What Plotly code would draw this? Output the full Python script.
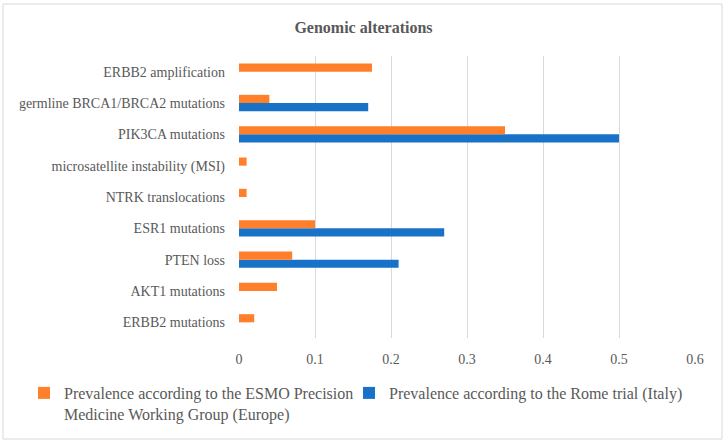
import plotly.graph_objects as go

categories = [
    "ERBB2 mutations",
    "AKT1 mutations",
    "PTEN loss",
    "ESR1 mutations",
    "NTRK translocations",
    "microsatellite instability (MSI)",
    "PIK3CA mutations",
    "germline BRCA1/BRCA2 mutations",
    "ERBB2 amplification",
]
esmo_values = [0.02, 0.05, 0.07, 0.10, 0.01, 0.01, 0.35, 0.04, 0.175]
rome_values = [None, None, 0.21, 0.27, None, None, 0.50, 0.17, None]
x_ticks = [0, 0.1, 0.2, 0.3, 0.4, 0.5, 0.6]
x_tick_labels = ["0", "0.1", "0.2", "0.3", "0.4", "0.5", "0.6"]

esmo_name = "Prevalence according to the ESMO Precision<br>Medicine Working Group (Europe)"
rome_name = "Prevalence according to the Rome trial (Italy)"

FONT = "Palatino Linotype, Book Antiqua, Palatino, Liberation Serif, DejaVu Serif, serif"
GRAY = "#595959"

W, H = 727, 444
L, R, T, B = 239, 32, 56, 106
pw, ph = W - L - R, H - T - B

fig = go.Figure()
fig.add_trace(go.Bar(
    y=categories, x=rome_values, orientation="h", name=rome_name,
    marker=dict(color="#1872C8", line=dict(width=0)), legendrank=2,
    legendwidth=320,
))
fig.add_trace(go.Bar(
    y=categories, x=esmo_values, orientation="h", name=esmo_name,
    marker=dict(color="#FF7F2A", line=dict(width=0)), legendrank=1,
    legendwidth=280,
))

fig.update_layout(
    width=W, height=H,
    margin=dict(l=L, r=R, t=T, b=B, autoexpand=False),
    paper_bgcolor="white", plot_bgcolor="white",
    barmode="group", bargap=0.48, bargroupgap=0,
    font=dict(family=FONT, color=GRAY, size=14),
    title=dict(text="<b>Genomic alterations</b>", x=0.5, xanchor="center",
               y=1 - 27 / H, yanchor="middle",
               font=dict(family=FONT, size=16, color=GRAY)),
    xaxis=dict(range=[0, 0.6], tickvals=x_ticks, ticktext=x_tick_labels,
               showgrid=True, gridcolor="#D9D9D9", gridwidth=1.3,
               zeroline=False, showline=False, ticks="",
               ticklabelstandoff=11,
               tickfont=dict(size=14, color=GRAY)),
    yaxis=dict(categoryorder="array", categoryarray=categories,
               showgrid=False, zeroline=False, showline=False, ticks="",
               ticklabelstandoff=13, tickfont=dict(size=14, color=GRAY)),
    legend=dict(orientation="h", x=(24 - L) / pw, xanchor="left",
                y=(H - B - 376) / ph, yanchor="top", valign="top",
                font=dict(size=16, color=GRAY),
                itemwidth=30, tracegroupgap=0, bgcolor="rgba(0,0,0,0)"),
    shapes=[dict(type="rect", xref="paper", yref="paper",
                 x0=(3 - L) / pw, x1=(722 - L) / pw,
                 y0=(H - B - 439) / ph, y1=(H - B - 4) / ph,
                 line=dict(color="#D9D9D9", width=1), fillcolor="rgba(0,0,0,0)",
                 layer="below")],
)

fig.write_html("out.html", config={"displayModeBar": False},
               post_script="document.body.style.margin='0';")
